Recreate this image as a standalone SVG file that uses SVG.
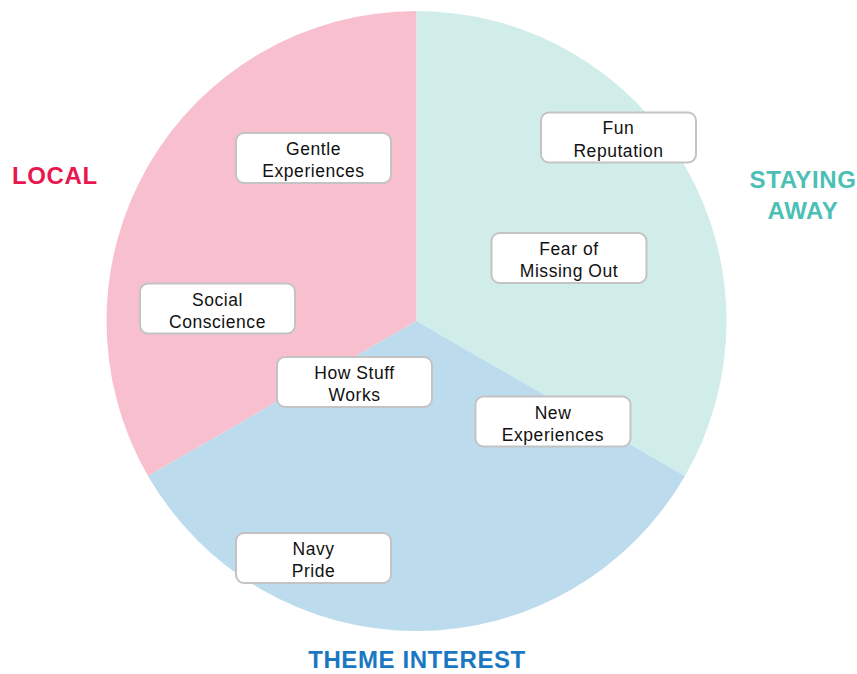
<svg xmlns="http://www.w3.org/2000/svg" width="857" height="674" viewBox="0 0 857 674">
<style>
.box{fill:#ffffff;stroke:#c3c3c3;stroke-width:2}
.bt{font-family:"Liberation Sans",Arial,sans-serif;font-size:17.5px;letter-spacing:0.55px;fill:#111111;text-anchor:middle}
.lbl{font-family:"Liberation Sans",Arial,sans-serif;font-size:24px;letter-spacing:0.6px;font-weight:bold}
</style>
<rect width="857" height="674" fill="#ffffff"/>
<g id="sectors">
<path id="sector-local" d="M416.5,321 L416.5,11 A310,310 0 0 0 148.03,476 Z" fill="#f8c0cf"/>
<path id="sector-staying" d="M416.5,321 L416.5,11 A310,310 0 0 1 684.97,476 Z" fill="#d1edea"/>
<path id="sector-theme" d="M416.5,321 L684.97,476 A310,310 0 0 1 148.03,476 Z" fill="#bcdcee"/>
</g>
<g id="connectors"/>
<g id="label-local"><text class="lbl" x="12" y="184" fill="#e8184f">LOCAL</text></g>
<g id="label-staying-away"><text class="lbl" x="803" y="188" fill="#4cc0b4" text-anchor="middle">STAYING</text><text class="lbl" x="803" y="219" fill="#4cc0b4" text-anchor="middle">AWAY</text></g>
<g id="label-theme-interest"><text class="lbl" x="417" y="668" fill="#1a78c2" text-anchor="middle">THEME INTEREST</text></g>
<g id="node-gentle"><rect class="box" x="236" y="133" width="155" height="50" rx="8"/><text class="bt" x="313.5" y="155">Gentle</text><text class="bt" x="313.5" y="177">Experiences</text></g>
<g id="node-social"><rect class="box" x="140" y="283.5" width="155" height="50" rx="8"/><text class="bt" x="217.5" y="305.5">Social</text><text class="bt" x="217.5" y="327.5">Conscience</text></g>
<g id="node-how"><rect class="box" x="277" y="357" width="155" height="50" rx="8"/><text class="bt" x="354.5" y="379">How Stuff</text><text class="bt" x="354.5" y="401">Works</text></g>
<g id="node-fun"><rect class="box" x="541" y="112.5" width="155" height="50" rx="8"/><text class="bt" x="618.5" y="134.3">Fun</text><text class="bt" x="618.5" y="156.5">Reputation</text></g>
<g id="node-fomo"><rect class="box" x="491.5" y="233" width="155" height="50" rx="8"/><text class="bt" x="569" y="255">Fear of</text><text class="bt" x="569" y="277">Missing Out</text></g>
<g id="node-new"><rect class="box" x="475.5" y="396.5" width="155" height="50" rx="8"/><text class="bt" x="553" y="418.5">New</text><text class="bt" x="553" y="440.5">Experiences</text></g>
<g id="node-navy"><rect class="box" x="236" y="533" width="155" height="50" rx="8"/><text class="bt" x="313.5" y="555">Navy</text><text class="bt" x="313.5" y="577">Pride</text></g>
</svg>
